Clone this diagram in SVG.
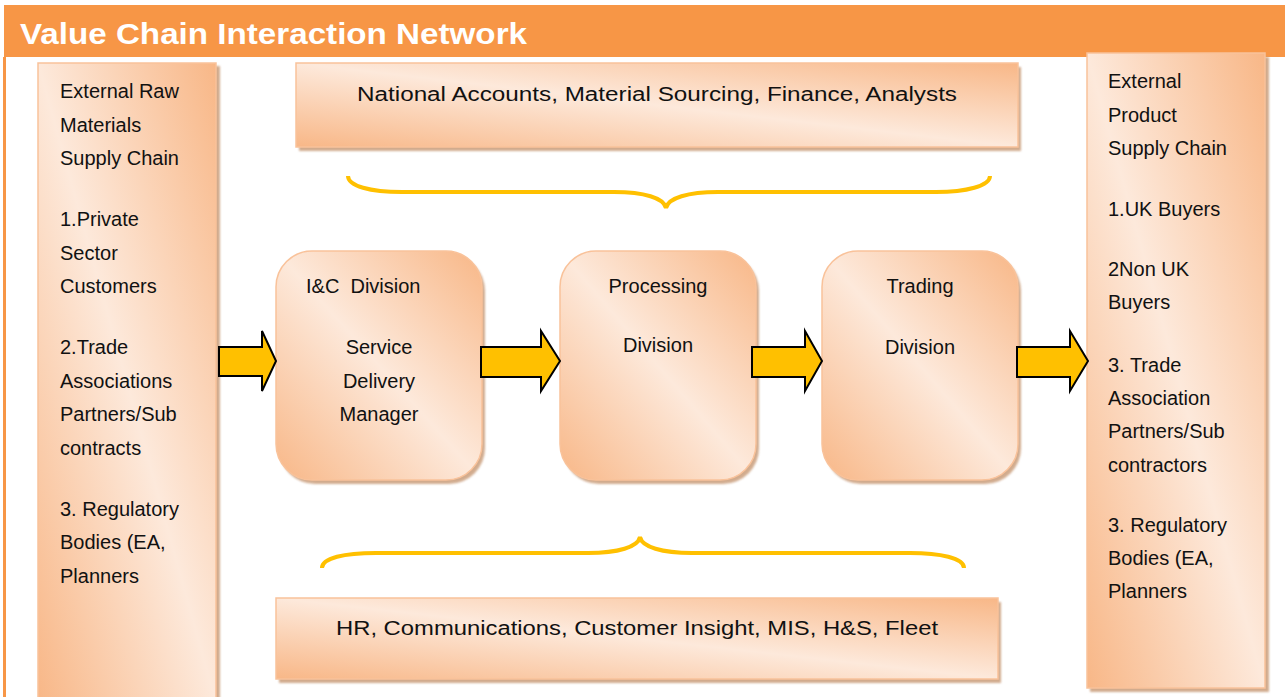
<svg xmlns="http://www.w3.org/2000/svg" width="1285" height="697" viewBox="0 0 1285 697">
  <defs>
    <linearGradient id="peach" x1="1" y1="0" x2="0" y2="1">
      <stop offset="0" stop-color="#F8B787"/>
      <stop offset="0.5" stop-color="#FDE9DB"/>
      <stop offset="1" stop-color="#F8B787"/>
    </linearGradient>
    <filter id="soft" x="-5%" y="-5%" width="110%" height="110%">
      <feGaussianBlur stdDeviation="1"/>
    </filter>
  </defs>
  <style>
    .box { fill: url(#peach); stroke: #F9C29A; stroke-width: 1.5; }
    .shadow { fill: #C99D7A; opacity: 0.85; filter: url(#soft); }
    .txt { font-family: "Liberation Sans", Arial, sans-serif; font-size: 20px; fill: #111; }
    .mid { text-anchor: middle; }
    .arrow { fill: #FFC000; stroke: #000; stroke-width: 2; stroke-linejoin: miter; }
    .brace { fill: none; stroke: #FFC000; stroke-width: 4; }
  </style>

  <rect x="0" y="0" width="1285" height="697" fill="#FFFFFF"/>

  <!-- header band and frame edge -->
  <g id="header">
    <rect x="4" y="5" width="1281" height="52" fill="#F79646"/>
    <rect x="3" y="57" width="3" height="640" fill="#F79646"/>
    <text x="20" y="44" font-family="Liberation Sans, Arial, sans-serif" font-weight="bold" font-size="29" fill="#FFFFFF" textLength="507" lengthAdjust="spacingAndGlyphs">Value Chain Interaction Network</text>
  </g>

  <!-- left column: upstream supply chain -->
  <g id="raw-materials">
    <rect class="shadow" x="41" y="66" width="179" height="640"/>
    <rect class="box" x="38" y="63" width="178" height="640"/>
    <g class="txt">
      <text x="60" y="98">External Raw</text>
      <text x="60" y="132">Materials</text>
      <text x="60" y="165">Supply Chain</text>
      <text x="60" y="226">1.Private</text>
      <text x="60" y="260">Sector</text>
      <text x="60" y="293">Customers</text>
      <text x="60" y="354">2.Trade</text>
      <text x="60" y="388">Associations</text>
      <text x="60" y="421">Partners/Sub</text>
      <text x="60" y="455">contracts</text>
      <text x="60" y="516">3. Regulatory</text>
      <text x="60" y="549">Bodies (EA,</text>
      <text x="60" y="583">Planners</text>
    </g>
  </g>

  <!-- right column: downstream supply chain -->
  <g id="product-chain">
    <rect class="shadow" x="1090" y="57" width="179" height="635"/>
    <rect class="box" x="1087" y="53" width="178" height="635"/>
    <g class="txt">
      <text x="1108" y="88">External</text>
      <text x="1108" y="122">Product</text>
      <text x="1108" y="155">Supply Chain</text>
      <text x="1108" y="216">1.UK Buyers</text>
      <text x="1108" y="276">2Non UK</text>
      <text x="1108" y="309">Buyers</text>
      <text x="1108" y="372">3. Trade</text>
      <text x="1108" y="405">Association</text>
      <text x="1108" y="438">Partners/Sub</text>
      <text x="1108" y="472">contractors</text>
      <text x="1108" y="532">3. Regulatory</text>
      <text x="1108" y="565">Bodies (EA,</text>
      <text x="1108" y="598">Planners</text>
    </g>
  </g>

  <!-- shared functions above -->
  <g id="top-functions">
    <rect class="shadow" x="299" y="67" width="722" height="84"/>
    <rect class="box" x="296" y="63" width="722" height="84"/>
    <text class="txt mid" x="657" y="101" textLength="600" lengthAdjust="spacingAndGlyphs">National Accounts, Material Sourcing, Finance, Analysts</text>
  </g>

  <!-- divisions -->
  <g id="ic-division">
    <rect class="shadow" x="279" y="255" width="206" height="229" rx="36"/>
    <rect class="box" x="276" y="251" width="206" height="229" rx="36"/>
    <text class="txt" x="306" y="293" xml:space="preserve">I&amp;C  Division</text>
    <text class="txt mid" x="379" y="354">Service</text>
    <text class="txt mid" x="379" y="388">Delivery</text>
    <text class="txt mid" x="379" y="421">Manager</text>
  </g>

  <g id="processing-division">
    <rect class="shadow" x="563" y="255" width="196" height="229" rx="36"/>
    <rect class="box" x="560" y="251" width="196" height="229" rx="36"/>
    <text class="txt mid" x="658" y="293">Processing</text>
    <text class="txt mid" x="658" y="352">Division</text>
  </g>

  <g id="trading-division">
    <rect class="shadow" x="825" y="255" width="196" height="229" rx="36"/>
    <rect class="box" x="822" y="251" width="196" height="229" rx="36"/>
    <text class="txt mid" x="920" y="293">Trading</text>
    <text class="txt mid" x="920" y="354">Division</text>
  </g>

  <!-- shared functions below -->
  <g id="bottom-functions">
    <rect class="shadow" x="279" y="602" width="722" height="81"/>
    <rect class="box" x="276" y="598" width="722" height="81"/>
    <text class="txt mid" x="637" y="635" textLength="602" lengthAdjust="spacingAndGlyphs">HR, Communications, Customer Insight, MIS, H&amp;S, Fleet</text>
  </g>

  <!-- connectors: flow arrows and grouping braces -->
  <g id="connectors">
    <polygon class="arrow" points="219,347 262,347 262,331 276,361 262,391 262,376 219,376"/>
    <polygon class="arrow" points="481,347 541,347 541,331 560,361 541,391 541,377 481,377"/>
    <polygon class="arrow" points="752,347 805,347 805,331 822,361 805,391 805,377 752,377"/>
    <polygon class="arrow" points="1017,347 1070,347 1070,331 1088,361 1070,391 1070,377 1017,377"/>

    <path class="brace" d="M348,176 C348,186 370,192 402,192 L614,192 C644,192 664,198 666,208 C668,198 688,192 718,192 L936,192 C966,192 990,186 990,176"/>
    <path class="brace" d="M322,568 C322,558 344,553 376,553 L588,553 C618,553 638,547 640,537 C642,547 662,553 692,553 L910,553 C940,553 964,558 964,568"/>
  </g>
</svg>
